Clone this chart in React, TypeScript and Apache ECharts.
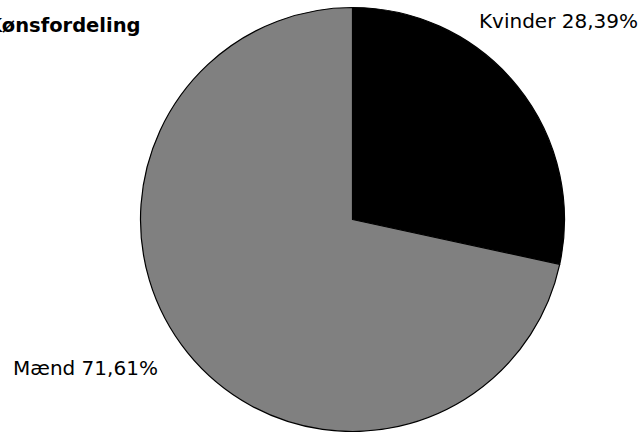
import React, { useEffect, useRef } from "react";
import * as echarts from "echarts";

const titleText = "Kønsfordeling";
const categories = ["Kvinder", "Mænd"];
const values = [28.39, 71.61];
const colors = ["#000000", "#808080"];

export default function App() {
  const ref = useRef<HTMLDivElement>(null);
  useEffect(() => {
    document.body.style.margin = "0";
    const chart = echarts.init(ref.current!, null, { renderer: "svg" });
    chart.setOption({
      animation: false,
      backgroundColor: "#ffffff",
      title: {
        text: titleText,
        left: -13,
        top: 15,
        padding: 0,
        textStyle: { fontFamily: "DejaVu Sans", fontWeight: "bold", fontSize: 19.5, color: "#000" },
      },
      series: [
        {
          type: "pie",
          center: [352.5, 219.5],
          radius: [0, 212],
          startAngle: 90,
          clockwise: true,
          data: categories.map((c, i) => ({
            name: c,
            value: values[i],
            itemStyle: { color: colors[i] },
          })),
          itemStyle: { borderColor: "#000", borderWidth: 1.2 },
          label: {
            show: true,
            position: "outside",
            overflow: "none",
            formatter: (p: any) => `${p.name} ${p.value.toFixed(2).replace(".", ",")}%`,
            fontFamily: "DejaVu Sans",
            fontSize: 20,
            color: "#000",
          },
          labelLine: { show: false },
          labelLayout: (p: any) =>
            p.dataIndex === 0
              ? { x: 638, y: 21, align: "right", verticalAlign: "middle" }
              : { x: 13, y: 368, align: "left", verticalAlign: "middle" },
          emphasis: { disabled: true },
        },
      ],
    });
    return () => chart.dispose();
  }, []);
  return <div ref={ref} style={{ position: "absolute", left: 0, top: 0, width: 642, height: 432 }} />;
}
